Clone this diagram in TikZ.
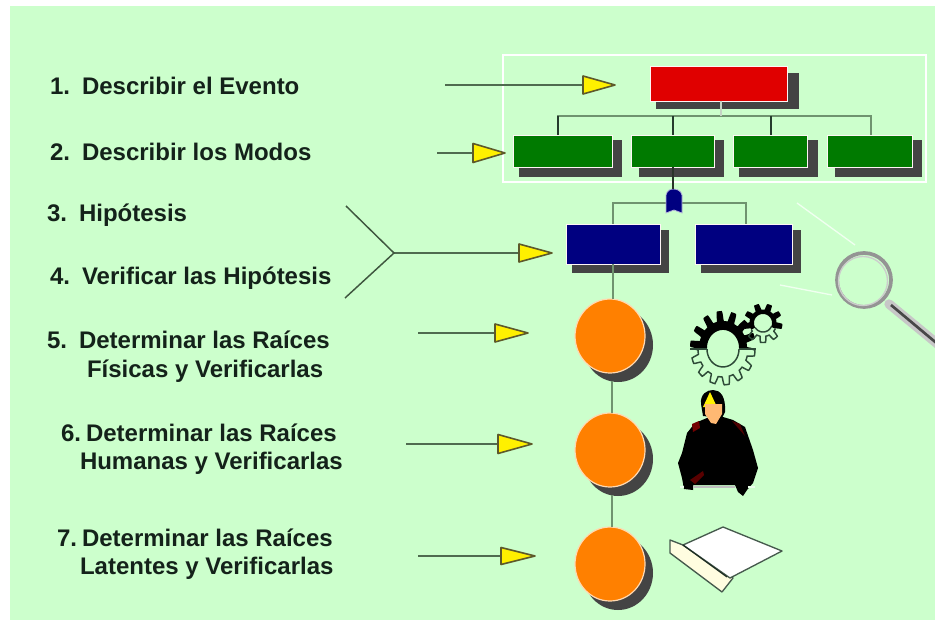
\documentclass[tikz,border=0pt]{standalone}
\usepackage{fontspec}
\setmainfont{Liberation Sans}
\usetikzlibrary{shapes.geometric}
\definecolor{bgc}{HTML}{CCFFCC}
\definecolor{shc}{HTML}{444444}
\definecolor{redc}{HTML}{E00000}
\definecolor{grnc}{HTML}{007A00}
\definecolor{bluc}{HTML}{000080}
\definecolor{orgc}{HTML}{FF8000}
\definecolor{yelc}{HTML}{FFF000}
\definecolor{linc}{HTML}{6F936F}
\definecolor{arrc}{HTML}{4F6B4F}
\definecolor{txtc}{HTML}{14221A}
\definecolor{gearc}{HTML}{2E4A38}
\tikzset{
  x=0.75pt,y=-0.75pt,
  boxn/.style={rectangle,inner sep=0pt,outer sep=0pt,draw=white!85!pink,line width=0.7pt},
  shad/.style={rectangle,inner sep=0pt,outer sep=0pt,fill=shc},
  disc/.style={ellipse,inner sep=0pt,outer sep=0pt,minimum width=52.5pt,minimum height=55.5pt,fill=orgc,draw=white!70!orange,line width=0.9pt},
  discsh/.style={ellipse,inner sep=0pt,outer sep=0pt,minimum width=52.5pt,minimum height=55.5pt,fill=shc},
  conn/.style={draw=linc,line width=1.6pt},
  darkconn/.style={draw=gearc!80!black,line width=1.6pt},
  arrline/.style={draw=arrc,line width=1.3pt},
  tri/.style={fill=yelc,draw=black!45!olive,line width=1.2pt,line join=round},
  lab/.style={anchor=base west,inner sep=0pt,outer sep=0pt,text=txtc,font=\fontsize{18}{20}\selectfont\bfseries},
  ray/.style={draw=white!70!bgc,line width=1pt},
  gearline/.style={draw=gearc,line width=1.1pt}
}
\newcommand{\rct}[6]{%
  \node[#1,minimum width={(#5-#3)*0.75pt},minimum height={(#6-#4)*0.75pt}] (#2) at ({(#3+#5)/2},{(#4+#6)/2}) {};}
\newcommand{\pointer}[6]{%
  \coordinate (#1a) at (#2,#5);
  \coordinate (#1b) at (#3,#5);
  \coordinate (#1c) at (#4,#5);
  \draw[arrline] (#1a) -- (#1b);
  \path[tri] (#3,#5-#6) -- (#1c) -- (#3,#5+#6) -- cycle;}
\newcommand{\gearedge}[7]{% cx cy R a n from to
  plot[domain=#6:#7,samples=161,smooth] ({#1+(#3+#4*max(-1,min(1,2.5*sin(#5*\x))))*cos(\x)},{#2+(#3+#4*max(-1,min(1,2.5*sin(#5*\x))))*sin(\x)})}
\newcommand{\holeedge}[5]{plot[domain=#4:#5,samples=40,smooth] ({#1+#3*cos(\x)},{#2+#3*sin(\x)})}
\newcommand{\holeback}[5]{-- plot[domain=#4:#5,samples=40,smooth] ({#1+#3*cos(\x)},{#2+#3*sin(\x)}) -- cycle}
\newcommand{\gapA}{\hspace{9pt}}
\newcommand{\gapB}{\hspace{3.75pt}}
\begin{document}
\begin{tikzpicture}
\useasboundingbox (0,0) rectangle (935,620);
\fill[white] (0,0) rectangle (935,620);
\fill[bgc] (10,6) rectangle (935,620);
% white frame
\node[rectangle,draw=white,line width=0.9pt,inner sep=0pt,minimum width={423*0.75pt},minimum height={127*0.75pt}] (frame) at (714.5,118.5) {};
% labels
\node[lab] (t1) at (50,95) {1.\gapA Describir el Evento};
\node[lab] (t2) at (50,161) {2.\gapA Describir los Modos};
\node[lab] (t3) at (47,222) {3.\gapA Hipótesis};
\node[lab] (t4) at (50,285) {4.\gapA Verificar las Hipótesis};
\node[lab] (t5) at (47,348) {5.\gapA Determinar las Raíces};
\node[lab] (t5b) at (87,377) {Físicas y Verificarlas};
\node[lab] (t6) at (61,441) {6.\gapB Determinar las Raíces};
\node[lab] (t6b) at (80,469) {Humanas y Verificarlas};
\node[lab] (t7) at (57,546) {7.\gapB Determinar las Raíces};
\node[lab] (t7b) at (80,574) {Latentes y Verificarlas};
% pointers
\pointer{p1}{445}{583}{615}{85}{9}
\pointer{p2}{437}{473}{505}{153}{9.5}
\pointer{p3}{394}{519}{552}{253}{9}
\pointer{p5}{418}{495}{528}{333}{9}
\pointer{p6}{406}{498}{532}{444}{9.5}
\pointer{p7}{418}{501}{535}{556}{8.5}
\coordinate (f1) at (346,206);
\coordinate (f2) at (345,298);
\draw[draw=arrc!80!black,line width=1.1pt] (f1) -- (p3a) -- (f2);
% boxes
\rct{shad}{rds}{656}{73}{799}{109}
\rct{boxn,fill=redc}{rd}{650}{66}{787}{101}
\coordinate (bl) at (558,116);
\coordinate (b2) at (673,116);
\coordinate (b3) at (771,116);
\coordinate (br) at (871,116);
\coordinate (bm) at (721,116);
\coordinate (d1) at (558,135);
\coordinate (d2) at (673,135);
\coordinate (d3) at (771,135);
\coordinate (d4) at (871,135);
\draw[conn] (d1) -- (bl) -- (br) -- (d4);
\draw[draw=white!60!linc,line width=1pt] (rd.south -| bm) -- (bm);
\draw[darkconn] (bl) -- (d1);
\draw[darkconn] (b2) -- (d2);
\draw[darkconn] (b3) -- (d3);
% connector from notch
\coordinate (nl) at (613,203);
\coordinate (nr) at (746,203);
\coordinate (nld) at (613,224);
\coordinate (nrd) at (746,224);
\draw[conn] (nld) -- (nl) -- (nr) -- (nrd);
\rct{shad}{g1s}{519}{140}{622}{177}
\rct{shad}{g2s}{639}{140}{724}{177}
\rct{shad}{g3s}{739}{140}{818}{177}
\rct{shad}{g4s}{835}{140}{922}{177}
\rct{boxn,fill=grnc}{g1}{513}{135}{612}{167}
\rct{boxn,fill=grnc}{g2}{631}{135}{714}{167}
\rct{boxn,fill=grnc}{g3}{733}{135}{807}{167}
\rct{boxn,fill=grnc}{g4}{827}{135}{912}{167}
\rct{shad}{n1s}{572}{230}{669}{273}
\rct{shad}{n2s}{701}{230}{801}{273}
\rct{boxn,fill=bluc}{n1}{566}{224}{660}{264}
\rct{boxn,fill=bluc}{n2}{695}{224}{792}{264}
% notch
\coordinate (nt) at (673,189);
\path[fill=bluc,draw=white!70!bluc,line width=0.6pt] (666,213) -- (666,195) .. controls (667,190) and (671,189) .. (nt) .. controls (676,189) and (681,190) .. (682,195) -- (682,213) -- (674,210) -- cycle;
\draw[draw=black!80!bgc,line width=1.6pt] (g2.south -| nt) -- (nt);
% discs
\node[discsh] (c1s) at (618,345) {};
\node[discsh] (c2s) at (618,459) {};
\node[discsh] (c3s) at (618,573) {};
\node[disc] (c1) at (610,336) {};
\node[disc] (c2) at (610,450) {};
\node[disc] (c3) at (610,564) {};
\draw[conn] (n1.south -| nld) -- (c1.north -| nld);
\coordinate (v1) at (612,381);
\coordinate (v2) at (612,495);
\draw[conn] (v1) -- (c2.north -| v1);
\draw[conn] (v2) -- (c3.north -| v2);
% magnifier
\draw[ray] (797,203) -- (855,245);
\draw[ray] (780,285) -- (832,295);
\draw[draw=black!42!white,line width=2.8pt] (864,280) circle[radius=27];
\draw[draw=white!60!gray,line width=1pt] (863,281) circle[radius=24.5];
\draw[draw=black!22!white,line width=7pt,line cap=round] (889,304) -- (940,346);
\draw[draw=black!72!white,line width=2pt] (891,305) -- (940,346);
% gears
\begin{scope}[shift={(723,349)},yscale=1.12]
\path[fill=black] \gearedge{0}{-1}{28.5}{4.5}{14}{180}{360} \holeback{0}{-1}{16}{360}{180};
\draw[gearline] \gearedge{0}{0}{28.5}{3.5}{14}{0}{180};
\draw[gearline] \holeedge{0}{0}{16}{0}{180};
\draw[gearline] (-33,0) -- (-16,0) (16,0) -- (33,0);
\end{scope}
\path[fill=black] \gearedge{763}{323}{16.5}{3}{9}{150}{385} \holeback{763}{323}{9}{385}{150};
\draw[gearline] \gearedge{763}{323}{16.5}{3}{9}{25}{150};
\draw[gearline] \holeedge{763}{323}{9}{25}{150};
% person
\path[fill=black] (701,404) .. controls (700,394) and (707,390) .. (713,390) .. controls (720,390) and (726,396) .. (725,412) -- (722,418) -- (703,416) -- cycle;
\path[fill=yelc] (710,392) -- (703,407) -- (717,407) -- cycle;
\path[fill=black,line join=round] (707,418) -- (695,423) -- (687,433) -- (682,453) -- (678,463) -- (682,478) -- (684,489) -- (693,490) -- (693,485) -- (735,485) -- (738,492) -- (743,496) -- (747,490) -- (753,483) -- (758,468) -- (753,450) -- (745,427) -- (733,420) -- (723,417) -- cycle;
\path[fill=red!45!black] (692,424) -- (699,421) -- (700,428) -- (693,432) -- cycle;
\path[fill=red!30!black] (732,421) -- (740,424) -- (745,436) -- cycle;
\path[fill=red!35!black] (690,480) -- (703,471) -- (704,475) -- (695,484) -- cycle;
\path[fill=orange!55!white] (705,404) -- (722,404) -- (722,414) -- (716,424) -- (711,423) -- (705,414) -- cycle;
\draw[draw=black!25!white,line width=1pt] (693,487) -- (735,487);
\draw[draw=white!60!bgc,line width=1pt] (680,487) -- (684,487) (748,487) -- (755,487);
% book
\path[fill=yellow!12!white,draw=gearc!70!gray,line width=1pt,line join=round] (670,540) -- (683,545) -- (733,578) -- (722,592) -- (670,553) -- cycle;
\path[fill=white,draw=gearc!70!gray,line width=1pt,line join=round] (683,545) -- (723,527) -- (782,551) -- (730,578) -- cycle;
\draw[draw=gearc!60!black,line width=0.9pt] (683,545) -- (727,577);
\end{tikzpicture}
\end{document}
